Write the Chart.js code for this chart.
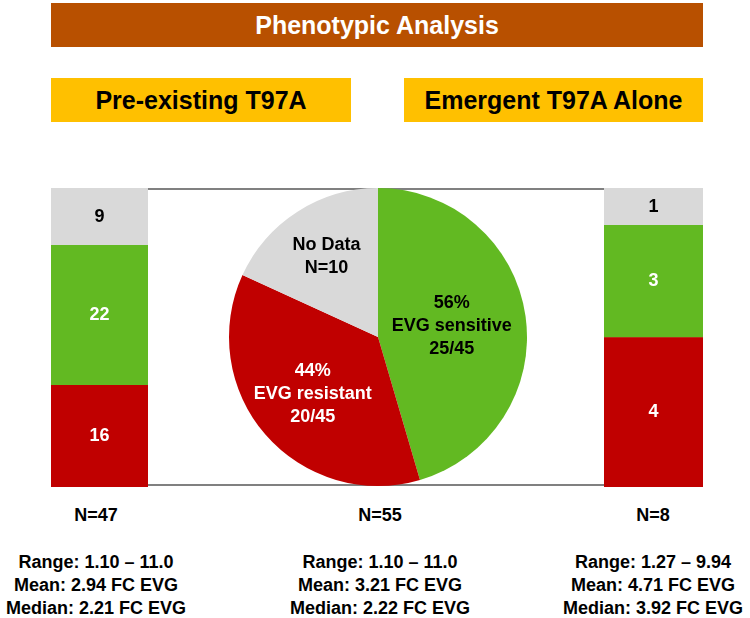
<!DOCTYPE html>
<html>
<head>
<meta charset="utf-8">
<script src="https://cdn.jsdelivr.net/npm/chart.js@4.4.1/dist/chart.umd.min.js"></script>
<style>
  body { margin: 0; background: #fff; font-family: "Liberation Sans", Arial, sans-serif; font-weight: bold; }
  #page { position: relative; width: 750px; height: 618px; overflow: hidden; }
  .box { position: absolute; display: flex; align-items: center; justify-content: center; }
  .title { left: 51px; top: 3px; width: 652px; height: 44px; background: #B85000; color: #fff; font-size: 25px; }
  .sub { top: 78px; height: 44px; background: #FFC000; color: #000; font-size: 25px; }
  .frame { position: absolute; left: 148px; top: 188px; width: 456px; height: 294px;
           border-top: 2px solid #808080; border-bottom: 2px solid #808080; }
  .stat { position: absolute; width: 260px; text-align: center; font-size: 18px; color: #000; line-height: 23px; }
  canvas { position: absolute; }
</style>
</head>
<body>
<div id="page">
  <div class="box title">Phenotypic Analysis</div>
  <div class="box sub" style="left:51px;width:300px">Pre-existing T97A</div>
  <div class="box sub" style="left:404px;width:299px">Emergent T97A Alone</div>
  <div class="frame"></div>

  <canvas id="barLeft" width="97" height="299" style="left:51px;top:188px"></canvas>
  <canvas id="pie" width="300" height="298" style="left:228px;top:188px"></canvas>
  <canvas id="barRight" width="99" height="299" style="left:604px;top:188px"></canvas>

  <div id="stats"></div>
</div>

<script>
// bars: one per group, stacked resistant / sensitive / no data
const groups = ['Pre-existing T97A', 'Emergent T97A Alone'];
const resistantCounts = [16, 4];
const sensitiveCounts = [22, 3];
const noDataCounts = [9, 1];

// pie: all patients
const pieLabels = ['EVG sensitive', 'EVG resistant', 'No Data'];
const pieCounts = [25, 20, 10];

// summary under each column (left bar, pie, right bar)
const columnN = [47, 55, 8];
const rangeText = ['1.10 – 11.0', '1.10 – 11.0', '1.27 – 9.94'];
const meanFC = ['2.94', '3.21', '4.71'];
const medianFC = ['2.21', '2.22', '3.92'];

const RED = '#C00000';
const GREEN = '#62B922';
const GRAY = '#D9D9D9';
const FONT = 'bold 18px "Liberation Sans", Arial, sans-serif';

const barLabels = {
  id: 'barLabels',
  afterDatasetsDraw(chart) {
    const ctx = chart.ctx;
    ctx.save();
    ctx.font = FONT;
    ctx.textAlign = 'center';
    ctx.textBaseline = 'middle';
    chart.data.datasets.forEach((ds, i) => {
      const meta = chart.getDatasetMeta(i);
      meta.data.forEach((bar, j) => {
        ctx.fillStyle = ds.labelColor;
        ctx.fillText(ds.data[j], bar.x, (bar.y + bar.base) / 2);
      });
    });
    ctx.restore();
  }
};

function makeBar(id, g) {
  const total = resistantCounts[g] + sensitiveCounts[g] + noDataCounts[g];
  return new Chart(document.getElementById(id), {
    type: 'bar',
    data: {
      labels: [groups[g]],
      datasets: [
        { label: 'EVG resistant', data: [resistantCounts[g]], backgroundColor: RED, labelColor: '#fff' },
        { label: 'EVG sensitive', data: [sensitiveCounts[g]], backgroundColor: GREEN, labelColor: '#fff' },
        { label: 'No Data', data: [noDataCounts[g]], backgroundColor: GRAY, labelColor: '#000' }
      ]
    },
    options: {
      responsive: false,
      animation: false,
      barPercentage: 1,
      categoryPercentage: 1,
      layout: { padding: 0 },
      plugins: { legend: { display: false }, tooltip: { enabled: false } },
      scales: {
        x: { stacked: true, display: false },
        y: { stacked: true, display: false, min: 0, max: total }
      }
    },
    plugins: [barLabels]
  });
}

makeBar('barLeft', 0);
makeBar('barRight', 1);

const tested = pieCounts[0] + pieCounts[1];
const pieText = [
  [Math.round(pieCounts[0] / tested * 100) + '%', pieLabels[0], pieCounts[0] + '/' + tested],
  [Math.round(pieCounts[1] / tested * 100) + '%', pieLabels[1], pieCounts[1] + '/' + tested],
  [pieLabels[2], 'N=' + pieCounts[2]]
];
const pieTextColor = ['#000', '#fff', '#000'];
const pieTextPos = [0.5, 0.58, 0.64];

const pieLabelPlugin = {
  id: 'pieLabels',
  afterDatasetsDraw(chart) {
    const ctx = chart.ctx;
    ctx.save();
    ctx.font = FONT;
    ctx.textAlign = 'center';
    ctx.textBaseline = 'middle';
    chart.getDatasetMeta(0).data.forEach((arc, i) => {
      const mid = (arc.startAngle + arc.endAngle) / 2;
      const r = arc.outerRadius * pieTextPos[i];
      const cx = arc.x + Math.cos(mid) * r;
      const cy = arc.y + Math.sin(mid) * r;
      const lines = pieText[i];
      ctx.fillStyle = pieTextColor[i];
      lines.forEach((t, k) => {
        ctx.fillText(t, cx, cy + (k - (lines.length - 1) / 2) * 23);
      });
    });
    ctx.restore();
  }
};

new Chart(document.getElementById('pie'), {
  type: 'pie',
  data: {
    labels: pieLabels,
    datasets: [{ data: pieCounts, backgroundColor: [GREEN, RED, GRAY], borderWidth: 0 }]
  },
  options: {
    responsive: false,
    animation: false,
    layout: { padding: 0 },
    plugins: { legend: { display: false }, tooltip: { enabled: false } }
  },
  plugins: [pieLabelPlugin]
});

// text under the chart
const colX = [96, 380, 653];
const stats = document.getElementById('stats');
for (let c = 0; c < 3; c++) {
  stats.innerHTML += `
    <div class="stat" style="left:${colX[c] - 130}px;top:504px">N=${columnN[c]}</div>
    <div class="stat" style="left:${colX[c] - 130}px;top:551px">
      Range: ${rangeText[c]}<br>Mean: ${meanFC[c]} FC EVG<br>Median: ${medianFC[c]} FC EVG
    </div>`;
}
</script>
</body>
</html>
